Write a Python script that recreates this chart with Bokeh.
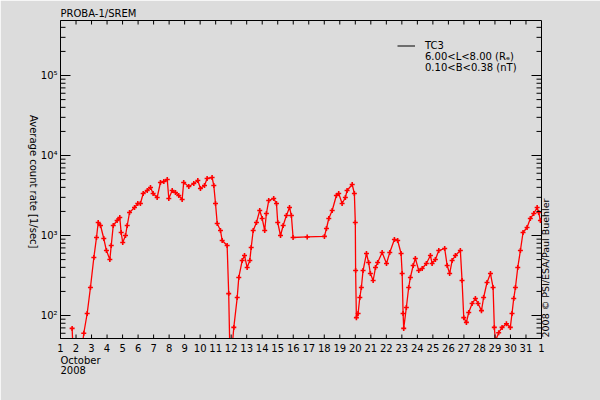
import math
from bokeh.plotting import figure
from bokeh.models import (Range1d, LogAxis, FixedTicker, Legend, LegendItem, Title)
from bokeh.embed import file_html
from bokeh.resources import INLINE

# ---- data ----
days = [1.75, 1.80, 2.40, 2.50, 2.72, 2.93, 3.15, 3.32, 3.43, 3.58, 3.79, 3.96,
        4.18, 4.27, 4.40, 4.65, 4.82, 4.91, 5.01, 5.19, 5.30, 5.45, 5.77, 5.98,
        6.15, 6.33, 6.59, 6.80, 6.97, 7.23, 7.44, 7.66, 7.88, 7.98, 8.20, 8.41,
        8.62, 8.84, 8.94, 9.27, 9.59, 9.85, 10.02, 10.28, 10.45, 10.77, 10.88,
        10.99, 11.10, 11.31, 11.42, 11.74, 11.84, 11.91, 12.06, 12.17, 12.39,
        12.49, 12.71, 12.86, 13.03, 13.20, 13.29, 13.42, 13.63, 13.84, 14.00,
        14.16, 14.27, 14.42, 14.74, 14.92, 15.00, 15.18, 15.35, 15.56, 15.76,
        15.88, 15.99, 16.90, 18.01, 18.14, 18.29, 18.51, 18.78, 18.93, 19.15,
        19.36, 19.47, 19.80, 19.94, 20.00, 20.02, 20.07, 20.18, 20.29, 20.39,
        20.50, 20.72, 20.86, 20.97, 21.15, 21.30, 21.44, 21.73, 22.01, 22.22,
        22.52, 22.73, 22.95, 23.02, 23.08, 23.12, 23.29, 23.44, 23.55, 23.73,
        23.87, 24.09, 24.31, 24.58, 24.84, 24.95, 25.16, 25.38, 25.76, 25.92,
        26.08, 26.24, 26.45, 26.77, 26.88, 26.99, 27.16, 27.31, 27.53, 27.74,
        27.91, 28.13, 28.27, 28.49, 28.71, 28.88, 28.96, 29.03, 29.24, 29.46,
        29.74, 29.99, 30.10, 30.21, 30.32, 30.47, 30.64, 30.81, 31.07, 31.28,
        31.50, 31.72, 31.82, 31.93]
rates = [69, 40, 40, 60, 106, 224, 531, 944, 1454, 1334, 917, 649,
         501, 750, 1334, 1540, 1679, 1090, 818, 1000, 1334, 1939, 2239, 2512,
         2512, 3350, 3652, 3981, 3350, 2985, 4597, 4732, 5012, 2901, 3652, 3447,
         3162, 2818, 4597, 4097, 4467, 4870, 3868, 4217, 5158, 5309, 4217,
         2512, 1413, 1155, 866, 750, 188, 40, 40, 71, 168,
         299, 487, 562, 398, 487, 708, 1155, 1454, 2054, 1631,
         1155, 1884, 2738, 2901, 2512, 1454, 1000, 1334, 1778, 2239,
         1778, 944, 960, 975, 1223, 1631, 2054, 3162, 3350, 2512,
         2985, 3652, 4340, 3350, 1454, 365, 94, 106, 168, 224,
         365, 596, 460, 335, 274, 398, 460, 613, 447, 613,
         891, 866, 596, 335, 106, 69, 126, 224, 299, 422,
         516, 365, 387, 447, 562, 447, 501, 649, 688, 422,
         335, 487, 562, 649, 274, 94, 82, 109, 141, 163,
         141, 115, 168, 259, 335, 224, 71, 48, 61, 71,
         79, 71, 106, 163, 224, 398, 649, 1090, 1259, 1631,
         1884, 2239, 1939, 1540]

day_ticks = list(range(1, 33))
day_labels = {d: str(d) for d in range(1, 32)}
day_labels[32] = "1"
y_major = [1e2, 1e3, 1e4, 1e5]
y_labels = {1e2: "10²", 1e3: "10³", 1e4: "10⁴", 1e5: "10⁵"}
y_minor = [m * 10 ** e for e in range(1, 6) for m in range(2, 10)]

title_text = "PROBA-1/SREM"
ylabel_text = "Average count rate [1/sec]"
month_text = "October"
year_text = "2008"
credit_text = "2008 © PSI/ESA/Paul Buehler"
legend_lines = ["TC3", "6.00<L<8.00 (Rₑ)", "0.10<B<0.38 (nT)"]

BG = "#dcdcdc"
FONT = "DejaVu Sans"
FS = "10px"

X0, X1 = 1, 32
Y0, Y1 = 51.6, 487000
W, H = 600, 400
BL, BR, BT, BB = 60, 59, 20, 62
frame_w = W - BL - BR
frame_h = H - BT - BB
px_day = frame_w / (X1 - X0)
px_dec = frame_h / (math.log10(Y1) - math.log10(Y0))

def y_at_px(py):
    """data value at a pixel row of the window"""
    return 10 ** (math.log10(Y1) - (py - BT) / px_dec)

p = figure(width=W, height=H, output_backend="svg", toolbar_location=None,
           x_range=Range1d(X0, X1), y_range=Range1d(Y0, Y1),
           y_axis_type="log", title=None,
           min_border_left=BL, min_border_right=BR, min_border_top=BT,
           min_border_bottom=BB,
           background_fill_color=BG, border_fill_color=BG,
           outline_line_color="black", outline_line_width=1)
p.grid.visible = False

def style_axis(ax):
    ax.major_tick_in = 0
    ax.major_tick_out = 0
    ax.minor_tick_in = 0
    ax.minor_tick_out = 0
    ax.major_label_text_font = FONT
    ax.major_label_text_font_size = FS
    ax.major_label_text_color = "black"
    ax.axis_line_color = "black"

xa = p.xaxis[0]
xa.ticker = FixedTicker(ticks=day_ticks, minor_ticks=[])
xa.major_label_overrides = day_labels
style_axis(xa)
xa.major_label_standoff = 5

ya = p.yaxis[0]
ya.ticker = FixedTicker(ticks=y_major, minor_ticks=[])
ya.major_label_overrides = y_labels
style_axis(ya)
ya.major_label_standoff = 3

# y-axis title, reading top to bottom, as a label of a second left axis
ylab_pos = y_at_px(248)
ya2 = LogAxis(ticker=FixedTicker(ticks=[ylab_pos], minor_ticks=[]),
              major_label_overrides={ylab_pos: ylabel_text},
              major_label_orientation=-math.pi / 2)
style_axis(ya2)
ya2.major_label_standoff = 4
ya2.axis_line_color = None
p.add_layout(ya2, "left")

# credit on the right, reading bottom to top
cred_pos = y_at_px(337)
ra = LogAxis(ticker=FixedTicker(ticks=[cred_pos], minor_ticks=[]),
             major_label_overrides={cred_pos: credit_text},
             major_label_orientation=math.pi / 2)
style_axis(ra)
ra.major_label_text_font_size = "9.5px"
ra.major_label_standoff = 4
ra.axis_line_color = None
p.add_layout(ra, "right")

# data
p.line(days, rates, line_color="red", line_width=1.3)
p.scatter(days, rates, marker="cross", size=5, line_width=1.6, color="red")

# inward ticks, drawn as segments from the tick arrays
xt_in = [d for d in day_ticks if X0 < d < X1]
n = len(xt_in)
fy = 10 ** (4 / px_dec)
p.segment(x0=xt_in, y0=[Y0] * n, x1=xt_in, y1=[Y0 * fy] * n,
          line_color="black", line_width=1)
p.segment(x0=xt_in, y0=[Y1 / fy] * n, x1=xt_in, y1=[Y1] * n,
          line_color="black", line_width=1)
ym = [v for v in y_minor if Y0 < v < Y1]
nM, nm = len(y_major), len(ym)
for xs, sgn in ((X0, 1), (X1, -1)):
    p.segment(x0=[xs] * nM, y0=y_major, x1=[xs + sgn * 10 / px_day] * nM, y1=y_major,
              line_color="black", line_width=1)
    p.segment(x0=[xs] * nm, y0=ym, x1=[xs + sgn * 5 / px_day] * nm, y1=ym,
              line_color="black", line_width=1)

# legend
r_leg = p.line([X0, X0], [Y0, Y0], line_color="black", line_width=1)
r_blank = p.line([X0, X0], [Y0, Y0], line_alpha=0)
legend = Legend(items=[LegendItem(label=legend_lines[0], renderers=[r_leg]),
                       LegendItem(label=legend_lines[1], renderers=[r_blank]),
                       LegendItem(label=legend_lines[2], renderers=[r_blank])],
                location=(337, 338 - 73), background_fill_alpha=0, border_line_alpha=0,
                padding=0, margin=0, spacing=0, glyph_width=18, glyph_height=9,
                label_height=9, label_standoff=10, label_text_font=FONT,
                label_text_font_size=FS, label_text_baseline="middle",
                label_text_line_height=0.9, label_text_color="black")
p.add_layout(legend)

# title and date texts
p.add_layout(Title(text=title_text, align="left", text_font=FONT, text_font_size=FS,
                   text_font_style="normal", standoff=3, text_color="black"), "above")
p.add_layout(Title(text=month_text, align="left", text_font=FONT, text_font_size=FS,
                   text_font_style="normal", standoff=-4, text_color="black"), "below")
p.add_layout(Title(text=year_text, align="left", text_font=FONT, text_font_size=FS,
                   text_font_style="normal", standoff=0, text_color="black"), "below")

open("out.html", "w").write(file_html(p, INLINE))
